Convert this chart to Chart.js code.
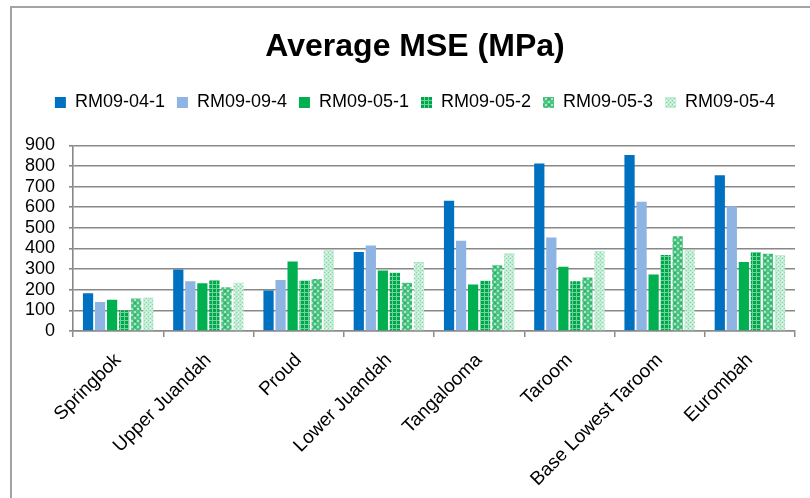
<!DOCTYPE html>
<html>
<head>
<meta charset="utf-8">
<script src="https://cdn.jsdelivr.net/npm/chart.js@4"></script>
<style>
  html, body { margin: 0; padding: 0; background: #fff; }
  #wrap { width: 810px; height: 498px; }
</style>
</head>
<body>
<div id="wrap"><canvas id="mse-chart" width="810" height="498"></canvas></div>
<script>
// data
const categories = ["Springbok", "Upper Juandah", "Proud", "Lower Juandah", "Tangalooma", "Taroom", "Base Lowest Taroom", "Eurombah"];
const seriesNames = ["RM09-04-1", "RM09-09-4", "RM09-05-1", "RM09-05-2", "RM09-05-3", "RM09-05-4"];
const rm0904_1 = [183, 298, 196, 383, 632, 812, 853, 755];
const rm0909_4 = [141, 241, 247, 415, 438, 454, 627, 605];
const rm0905_1 = [152, 231, 337, 293, 225, 311, 274, 335];
const rm0905_2 = [100, 247, 245, 282, 244, 241, 369, 383];
const rm0905_3 = [157, 212, 252, 234, 319, 260, 460, 375];
const rm0905_4 = [162, 234, 391, 335, 377, 388, 391, 369];
const yTicks = [0, 100, 200, 300, 400, 500, 600, 700, 800, 900];

const FONT = "'Liberation Sans', Arial, sans-serif";

// little tiles for the patterned bars
function makePattern(size, bg, draw) {
    const c = document.createElement('canvas');
    c.width = size;
    c.height = size;
    const g = c.getContext('2d');
    g.fillStyle = bg;
    g.fillRect(0, 0, size, size);
    draw(g);
    return document.getElementById('mse-chart').getContext('2d').createPattern(c, 'repeat');
}

const pat2 = makePattern(4, '#00a64e', function (g) {
    g.fillStyle = '#6fd596';
    g.fillRect(0, 0, 4, 1);
    g.fillRect(0, 0, 1, 4);
});
const pat3 = makePattern(6, '#4fc383', function (g) {
    g.fillStyle = '#a9e6c3';
    g.fillRect(2, 0, 2, 1);
    g.fillRect(2, 5, 2, 1);
    g.fillRect(0, 2, 1, 2);
    g.fillRect(5, 2, 1, 2);
    g.fillStyle = '#2fb56b';
    g.fillRect(2, 2, 2, 2);
});
const pat4 = makePattern(4, '#c3ecd4', function (g) {
    g.fillStyle = '#86d7a8';
    g.fillRect(0, 0, 1, 1);
    g.fillRect(2, 2, 1, 1);
    g.fillStyle = '#ffffff';
    g.fillRect(2, 0, 1, 1);
});

const seriesValues = [rm0904_1, rm0909_4, rm0905_1, rm0905_2, rm0905_3, rm0905_4];
const seriesColors = ['#0070c0', '#8db4e2', '#00b050', pat2, pat3, pat4];

// grey frame of the chart (left and top edge)
const framePlugin = {
    id: 'frame',
    beforeInit(chart) {
        // leave more room under the legend, like the original
        const fit = chart.legend.fit;
        chart.legend.fit = function () {
            fit.call(this);
            this.height += 24;
        };
    },
    beforeDraw(chart) {
        const ctx = chart.ctx;
        ctx.save();
        ctx.fillStyle = '#fff';
        ctx.fillRect(0, 0, chart.width, chart.height);
        ctx.strokeStyle = '#a3a3a3';
        ctx.lineWidth = 2;
        ctx.beginPath();
        ctx.moveTo(11, 498);
        ctx.lineTo(11, 7);
        ctx.lineTo(810, 7);
        ctx.stroke();
        ctx.restore();
    }
};

let ctx = document.getElementById("mse-chart").getContext("2d");
var mseChart = new Chart(ctx, {
    type: 'bar',
    data: {
        labels: categories,
        datasets: seriesNames.map(function (name, i) {
            return {
                label: name,
                data: seriesValues[i],
                backgroundColor: seriesColors[i],
                borderWidth: 0,
                categoryPercentage: 0.8,
                barPercentage: 0.85,
                yAxisID: 'y'
            };
        })
    },
    options: {
        responsive: false,
        animation: false,
        layout: { padding: { top: 10, left: 20, right: 0, bottom: 0 } },
        plugins: {
            title: {
                display: true,
                text: 'Average MSE (MPa)',
                color: '#000',
                font: { family: FONT, size: 32, weight: 'bold' },
                padding: { top: 18, bottom: 15 }
            },
            legend: {
                position: 'top',
                labels: {
                    color: '#000',
                    font: { family: FONT, size: 18 },
                    boxWidth: 11,
                    boxHeight: 11,
                    padding: 12
                }
            },
            tooltip: { enabled: false }
        },
        scales: {
            x: {
                grid: {
                    offset: true,
                    drawOnChartArea: false,
                    drawTicks: true,
                    tickLength: 6,
                    color: '#8c8c8c',
                    lineWidth: 1.5
                },
                border: { color: '#8c8c8c', width: 1.5 },
                ticks: {
                    color: '#000',
                    font: { family: FONT, size: 19 },
                    maxRotation: 45,
                    minRotation: 45,
                    padding: 12,
                    autoSkip: false
                },
                afterFit(scale) { scale.height = 167; }
            },
            y: {
                min: 0,
                max: 900,
                afterBuildTicks(scale) { scale.ticks = yTicks.map(v => ({ value: v })); },
                grid: { color: '#888888', lineWidth: 1.6, tickLength: 4 },
                border: { color: '#888888', width: 1.6 },
                ticks: {
                    color: '#000',
                    font: { family: FONT, size: 18 },
                    padding: 14,
                    autoSkip: false
                },
                afterFit(scale) { scale.width = 53; }
            },
            yPad: {
                position: 'right',
                display: true,
                grid: { display: false },
                border: { display: false },
                ticks: { display: false },
                afterFit(scale) { scale.width = 15; }
            }
        }
    },
    plugins: [framePlugin]
});
</script>
</body>
</html>
